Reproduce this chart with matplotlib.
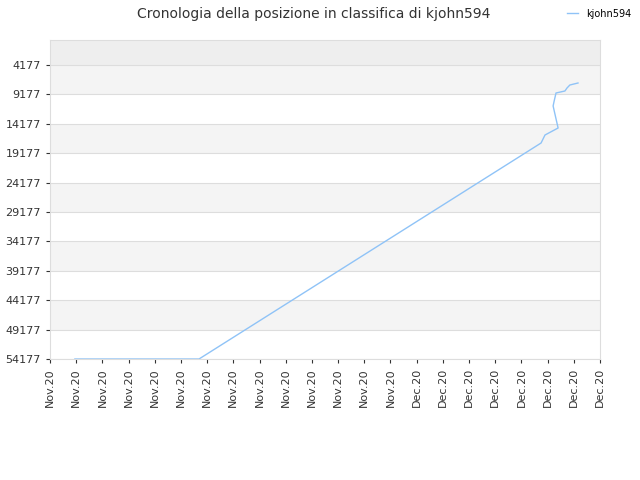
import matplotlib
matplotlib.use('Agg')
import matplotlib.pyplot as plt

# x in day index from first tick, y = rank
days = [0.95, 5.69, 18.75, 18.90, 19.40, 19.21, 19.24, 19.32, 19.66, 19.74, 19.85, 20.16]
ranks = [54177, 54177, 17442, 16082, 14891, 11150, 10500, 8939, 8599, 8089, 7578, 7238]
tick_labels = ['Nov.20'] * 14 + ['Dec.20'] * 8
y_ticks = list(range(4177, 54178, 5000))

fig = plt.figure(figsize=(6.4, 4.8), dpi=100)
ax = fig.add_axes([50/640, 1-359/480, 550/640, 319/480])

ax.axhspan(-75, 4177, color='#eeeeee', lw=0)
for lo in range(4177, 54177, 10000):
    ax.axhspan(lo, lo + 5000, color='#f4f4f4', lw=0)
for y in y_ticks:
    ax.axhline(y, color='#dddddd', lw=0.8)

ax.plot(days, ranks, color='#8fc3f7', lw=1, label='kjohn594')

ax.set_ylim(54177, -75)
ax.set_xlim(0, 21)
ax.set_yticks(y_ticks)
ax.set_xticks(range(22))
ax.set_xticklabels(tick_labels, rotation=90)
ax.tick_params(labelsize=8, colors='#333333', length=3)
for s in ax.spines.values():
    s.set_color('#dddddd')

fig.suptitle('Cronologia della posizione in classifica di kjohn594', x=0.49, y=0.985,
             fontsize=10, color='#333333')
fig.legend(loc='upper right', bbox_to_anchor=(1.0, 1.0), frameon=False, fontsize=7,
           handlelength=1.2)

fig.savefig('out.png')
